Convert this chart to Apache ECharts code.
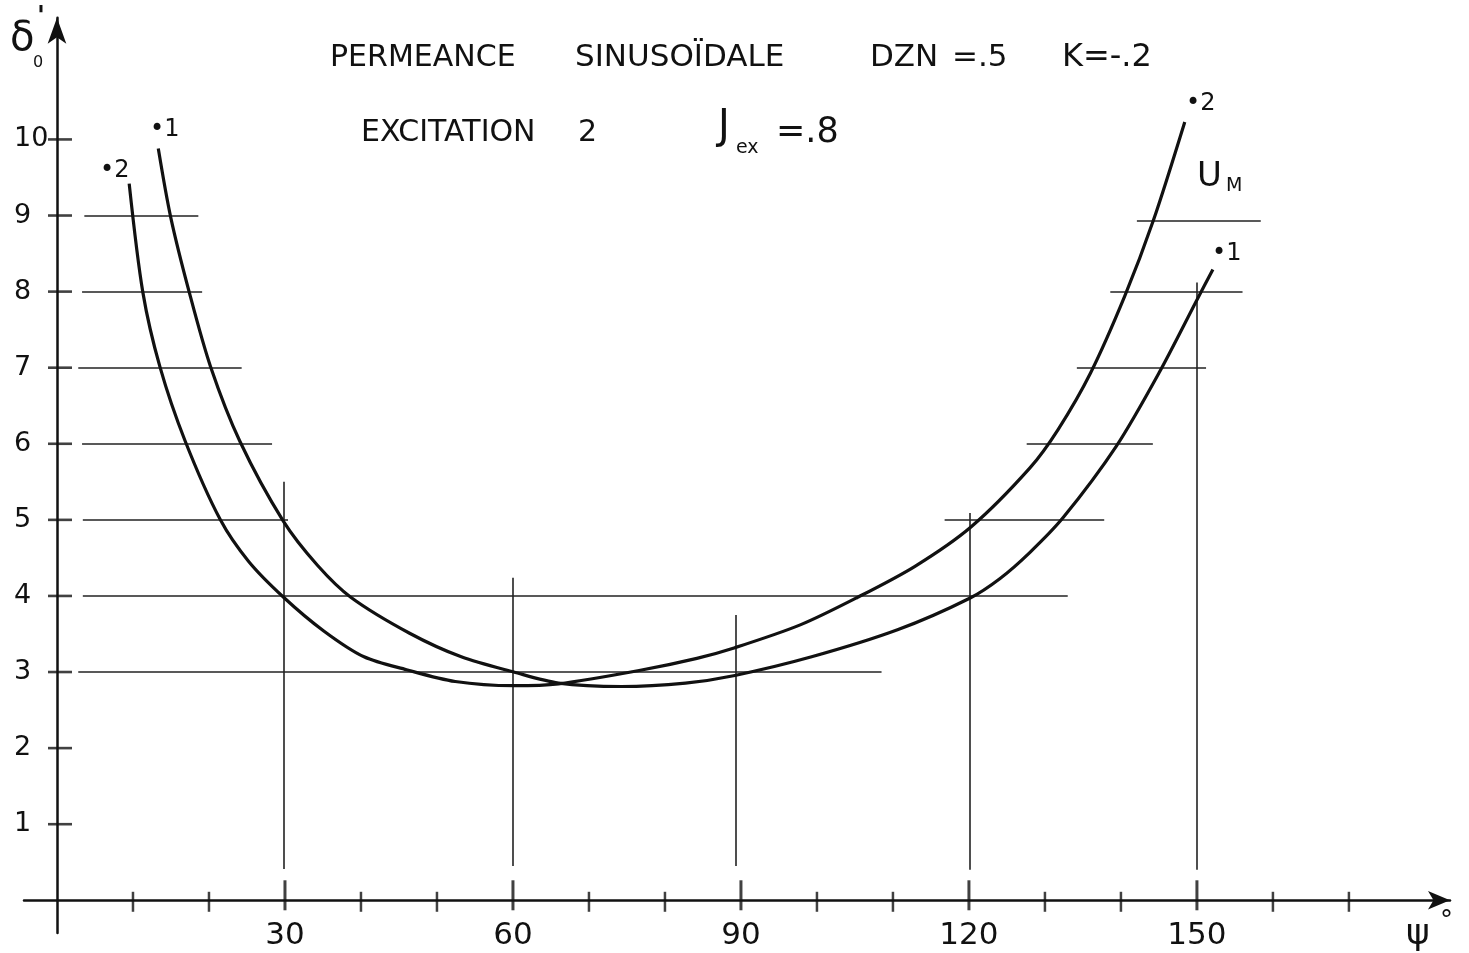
<!DOCTYPE html>
<html>
<head>
<meta charset="utf-8">
<script src="https://cdn.jsdelivr.net/npm/echarts@6/dist/echarts.min.js"></script>
<style>
html,body{margin:0;padding:0;background:#fff;}
#chart{width:1469px;height:953px;}
</style>
</head>
<body>
<div id="chart"></div>
<script>
// ---- data ----
const xTickValues = [10,20,30,40,50,60,70,80,90,100,110,120,130,140,150,160,170];
const xLabelValues = [30,60,90,120,150];
const yTickValues = [1,2,3,4,5,6,7,8,9,10];

// curve ".1"  (psi in degrees, delta'0)
const curve1 = [
  [13.33,9.88],[14.96,8.98],[17.41,7.99],[20.22,7.01],[24.08,6.03],[29.8,4.98],
  [34.3,4.40],[38.7,3.98],[46.4,3.51],[53.2,3.20],[60.1,3.00],[66.0,2.855],
  [74.3,2.81],[82.7,2.855],[89.2,2.955],[99.3,3.20],[110.6,3.555],[120.1,3.97],
  [124.1,4.23],[128.0,4.57],[132.4,5.03],[139.4,5.97],[145.0,6.93],[150.2,7.93],
  [152.1,8.29]
];
// curve ".2"
const curve2 = [
  [9.5,9.42],[11.3,7.99],[13.55,7.01],[16.85,6.04],[21.5,5.00],[25.25,4.45],
  [29.85,3.98],[35.1,3.54],[40.4,3.20],[46.0,3.03],[52.4,2.875],[60.1,2.82],
  [66.0,2.845],[76.6,3.02],[84.2,3.18],[89.2,3.32],[97.8,3.62],[105.3,3.98],
  [112.9,4.39],[120.3,4.91],[128.0,5.68],[131.75,6.19],[136.0,6.93],[140.5,7.94],
  [144.25,8.93],[148.4,10.23]
];
// horizontal construction lines: [y, xStart, xEnd]
const hLines = [
  [9,3.6,18.6],[8,3.3,19.1],[7,2.8,24.3],[6,3.3,28.3],[5,3.4,30.4],
  [4,3.4,133.0],[3,2.8,108.5],
  [5,116.8,137.8],[6,127.6,144.2],[7,134.2,151.2],[8,138.6,156.0],[8.93,142.1,158.4]
];
// vertical construction lines: [x, yBottom, yTop]
const vLines = [
  [29.8,0.41,5.5],[60.0,0.45,4.24],[89.3,0.45,3.75],[120.1,0.40,5.09],[150.0,0.40,8.12]
];

const chart = echarts.init(document.getElementById('chart'), null, {renderer:'canvas'});
const INK = '#111';
const FONT = 'DejaVu Sans';

const xTickData = xTickValues.map(v => {
  const major = xLabelValues.indexOf(v) >= 0;
  return {value:[v,0], symbolSize: major ? [3,30] : [2.5,20], symbolOffset: major ? [0,-5] : [0,1.5]};
});
const yTickData = yTickValues.map(v => ({value:[0,v]}));

function txt(text, x, y, size, extra) {
  return {type:'text', style:Object.assign({text:text, x:x, y:y, fontSize:size, fontFamily:FONT, fill:INK, verticalAlign:'middle'}, extra || {})};
}

const option = {
  backgroundColor:'#fff',
  animation:false,
  grid:{left:24, right:19, top:17.7, bottom:20, containLabel:false, outerBoundsMode:'none'},
  xAxis:{
    type:'value', min:-4.34, max:183.3,
    splitLine:{show:false},
    axisTick:{show:false},
    axisLine:{onZero:true, lineStyle:{color:INK, width:2.5}, symbol:['none','arrow'], symbolSize:[14,22]},
    axisLabel:{customValues:xLabelValues, margin:-13, fontSize:31, color:INK, fontFamily:FONT}
  },
  yAxis:{
    type:'value', min:-0.43, max:11.6,
    splitLine:{show:false},
    axisTick:{show:false},
    axisLine:{onZero:true, lineStyle:{color:INK, width:2.5}, symbol:['none','arrow'], symbolSize:[14,26]},
    axisLabel:{customValues:yTickValues, margin:10, align:'left', fontSize:27, color:INK, fontFamily:FONT}
  },
  series:[
    {type:'lines', coordinateSystem:'cartesian2d', silent:true, z:2,
     lineStyle:{color:'#222', width:1.6, opacity:1},
     data: hLines.map(h => ({coords:[[h[1],h[0]],[h[2],h[0]]]})).concat(
           vLines.map(v => ({coords:[[v[0],v[1]],[v[0],v[2]]]})))},
    {type:'scatter', name:'xticks', symbol:'rect', itemStyle:{color:INK}, data:xTickData, z:4, silent:true, clip:false},
    {type:'scatter', name:'yticks', symbol:'rect', symbolSize:[24,2.6], symbolOffset:[3,0], itemStyle:{color:INK}, data:yTickData, z:4, silent:true, clip:false},
    {type:'line', name:'.1', data:curve1, smooth:0.3, showSymbol:false, z:5,
     lineStyle:{color:INK, width:3.2}},
    {type:'line', name:'.2', data:curve2, smooth:0.3, showSymbol:false, z:5,
     lineStyle:{color:INK, width:3.2}}
  ],
  graphic:[
    txt('PERMEANCE', 330, 58, 30),
    txt('SINUSOÏDALE', 575, 58, 31),
    txt('DZN', 870, 58, 31),
    txt('=.5', 952, 58, 31),
    txt('K=-.2', 1062, 58, 32),
    txt('EXCITATION', 361, 133, 30),
    txt('2', 578, 133, 30),
    txt('J', 718, 128, 40),
    txt('ex', 736, 148, 19),
    txt('=.8', 776, 133, 35),
    txt('U', 1197, 177, 34),
    txt('M', 1226, 186, 19),
    txt('•2', 100, 171, 24),
    txt('•1', 150, 130, 24),
    txt('•2', 1186, 104, 24),
    txt('•1', 1212, 254, 24),
    txt('δ', 10, 40, 40),
    txt("'", 37, 18, 26, {fontWeight:'bold'}),
    txt('0', 33, 63, 16),
    txt('ψ', 1406, 935, 36),
    txt('°', 1440, 922, 26)
  ]
};
chart.setOption(option);
</script>
</body>
</html>
